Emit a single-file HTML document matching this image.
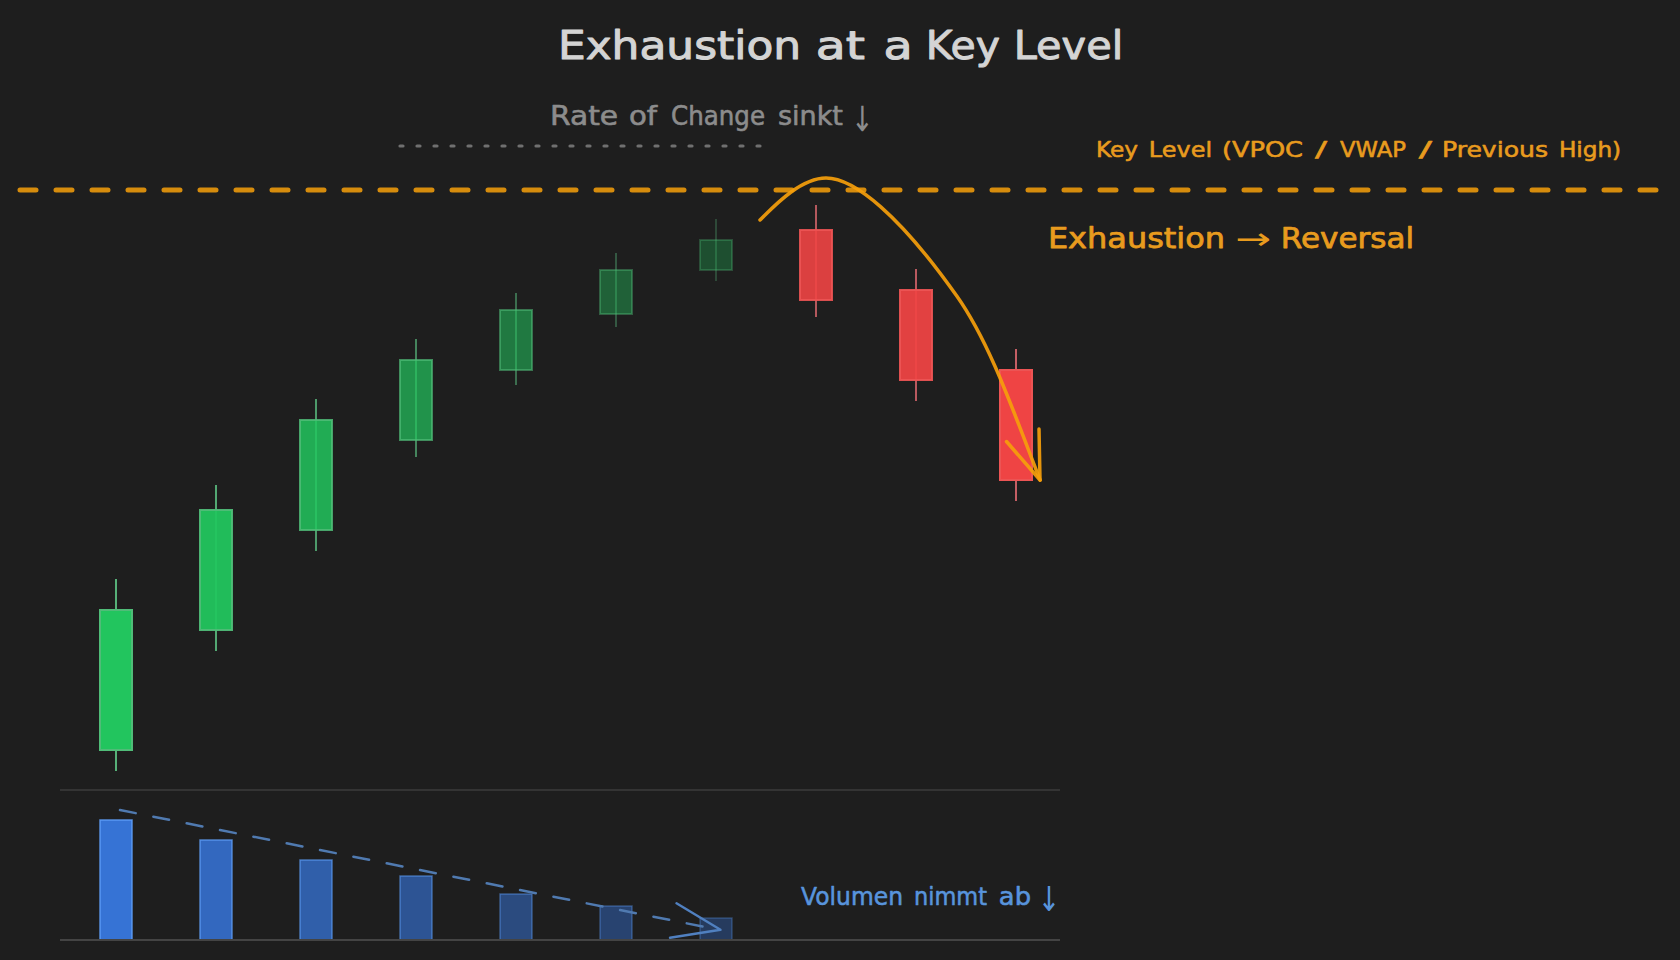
<!DOCTYPE html>
<html lang="de">
<head>
<meta charset="utf-8">
<title>Exhaustion at a Key Level</title>
<style>
html,body{margin:0;padding:0;background:#1e1e1e;}
body{width:1680px;height:960px;overflow:hidden;}
svg{display:block;}
text{font-family:"DejaVu Sans","Liberation Sans",sans-serif;white-space:pre;}
</style>
</head>
<body>
<svg width="1680" height="960" viewBox="0 0 1680 960">
<rect x="0" y="0" width="1680" height="960" fill="#1e1e1e"/>
<text font-size="39" fill="#d4d4d4" stroke="#d4d4d4" stroke-width="1.0" stroke-linejoin="round"><tspan x="557.92" y="59" textLength="243.2" lengthAdjust="spacingAndGlyphs">Exhaustion</tspan> <tspan x="815.88" y="59" textLength="49.2" lengthAdjust="spacingAndGlyphs">at</tspan> <tspan x="883.54" y="59" textLength="29.2" lengthAdjust="spacingAndGlyphs">a</tspan> <tspan x="925.83" y="59" textLength="74.2" lengthAdjust="spacingAndGlyphs">Key</tspan> <tspan x="1013.76" y="59" textLength="109.4" lengthAdjust="spacingAndGlyphs">Level</tspan></text>
<text font-size="26" fill="#8c8c8c" stroke="#8c8c8c" stroke-width="0.6" stroke-linejoin="round"><tspan x="549.91" y="125" textLength="68.2" lengthAdjust="spacingAndGlyphs">Rate</tspan> <tspan x="628.97" y="125" textLength="28.1" lengthAdjust="spacingAndGlyphs">of</tspan> <tspan x="671.0" y="125" textLength="94.0" lengthAdjust="spacingAndGlyphs">Change</tspan> <tspan x="777.98" y="125" textLength="65.0" lengthAdjust="spacingAndGlyphs">sinkt</tspan> <tspan x="851.1" y="131.3" font-size="34.5" stroke-width="0" textLength="22.7" lengthAdjust="spacingAndGlyphs">↓</tspan></text>
<line x1="400" y1="146" x2="762" y2="146" stroke="#707070" stroke-width="3.2" stroke-linecap="round" stroke-dasharray="3 14"/>
<text font-size="22" fill="#e89b1e" stroke="#e89b1e" stroke-width="0.6" stroke-linejoin="round"><tspan x="1095.94" y="156.5" textLength="42.1" lengthAdjust="spacingAndGlyphs">Key</tspan> <tspan x="1148.89" y="156.5" textLength="63.2" lengthAdjust="spacingAndGlyphs">Level</tspan> <tspan x="1221.93" y="156.5" textLength="81.1" lengthAdjust="spacingAndGlyphs">(VPOC</tspan> <tspan x="1314.91" y="156.5" textLength="12.1" lengthAdjust="spacingAndGlyphs">/</tspan> <tspan x="1340.01" y="156.5" textLength="66.0" lengthAdjust="spacingAndGlyphs">VWAP</tspan> <tspan x="1418.85" y="156.5" textLength="13.3" lengthAdjust="spacingAndGlyphs">/</tspan> <tspan x="1441.95" y="156.5" textLength="106.1" lengthAdjust="spacingAndGlyphs">Previous</tspan> <tspan x="1558.91" y="156.5" textLength="62.2" lengthAdjust="spacingAndGlyphs">High)</tspan></text>
<line x1="20" y1="190" x2="1660" y2="190" stroke="#f59e0b" stroke-opacity="0.86" stroke-width="5" stroke-linecap="round" stroke-dasharray="16 20"/>
<text font-size="28" fill="#e89b1e" stroke="#e89b1e" stroke-width="0.75" stroke-linejoin="round"><tspan x="1047.93" y="247.8" textLength="177.1" lengthAdjust="spacingAndGlyphs">Exhaustion</tspan> <tspan x="1234.9" y="249" font-size="29.9" stroke-width="0" textLength="35.8" lengthAdjust="spacingAndGlyphs">→</tspan> <tspan x="1280.89" y="247.8" textLength="133.2" lengthAdjust="spacingAndGlyphs">Reversal</tspan></text>
<line x1="116" y1="580" x2="116" y2="770" stroke="rgb(86,176,120)" stroke-opacity="1.0" stroke-width="2" stroke-linecap="square"/>
<rect x="100" y="610" width="32" height="140" fill="#22c55e" fill-opacity="1.0" stroke="rgb(80,188,120)" stroke-opacity="1.0" stroke-width="2"/>
<line x1="216" y1="486" x2="216" y2="650" stroke="rgb(86,176,120)" stroke-opacity="0.95" stroke-width="2" stroke-linecap="square"/>
<rect x="200" y="510" width="32" height="120" fill="#22c55e" fill-opacity="0.95" stroke="rgb(80,188,120)" stroke-opacity="0.95" stroke-width="2"/>
<line x1="316" y1="400" x2="316" y2="550" stroke="rgb(86,176,120)" stroke-opacity="0.85" stroke-width="2" stroke-linecap="square"/>
<rect x="300" y="420" width="32" height="110" fill="#22c55e" fill-opacity="0.85" stroke="rgb(80,188,120)" stroke-opacity="0.85" stroke-width="2"/>
<line x1="416" y1="340" x2="416" y2="456" stroke="rgb(86,176,120)" stroke-opacity="0.7" stroke-width="2" stroke-linecap="square"/>
<rect x="400" y="360" width="32" height="80" fill="#22c55e" fill-opacity="0.7" stroke="rgb(80,188,120)" stroke-opacity="0.7" stroke-width="2"/>
<line x1="516" y1="294" x2="516" y2="384" stroke="rgb(86,176,120)" stroke-opacity="0.55" stroke-width="2" stroke-linecap="square"/>
<rect x="500" y="310" width="32" height="60" fill="#22c55e" fill-opacity="0.55" stroke="rgb(80,188,120)" stroke-opacity="0.55" stroke-width="2"/>
<line x1="616" y1="254" x2="616" y2="326" stroke="rgb(86,176,120)" stroke-opacity="0.4" stroke-width="2" stroke-linecap="square"/>
<rect x="600" y="270" width="32" height="44" fill="#22c55e" fill-opacity="0.4" stroke="rgb(80,188,120)" stroke-opacity="0.4" stroke-width="2"/>
<line x1="716" y1="220" x2="716" y2="280" stroke="rgb(86,176,120)" stroke-opacity="0.3" stroke-width="2" stroke-linecap="square"/>
<rect x="700" y="240" width="32" height="30" fill="#22c55e" fill-opacity="0.3" stroke="rgb(80,188,120)" stroke-opacity="0.3" stroke-width="2"/>
<line x1="816" y1="206" x2="816" y2="316" stroke="rgb(196,94,100)" stroke-opacity="0.91" stroke-width="2" stroke-linecap="square"/>
<rect x="800" y="230" width="32" height="70" fill="#ef4444" fill-opacity="0.91" stroke="rgb(236,84,84)" stroke-opacity="0.91" stroke-width="2"/>
<line x1="916" y1="270" x2="916" y2="400" stroke="rgb(196,94,100)" stroke-opacity="0.94" stroke-width="2" stroke-linecap="square"/>
<rect x="900" y="290" width="32" height="90" fill="#ef4444" fill-opacity="0.94" stroke="rgb(236,84,84)" stroke-opacity="0.94" stroke-width="2"/>
<line x1="1016" y1="350" x2="1016" y2="500" stroke="rgb(196,94,100)" stroke-opacity="1.0" stroke-width="2" stroke-linecap="square"/>
<rect x="1000" y="370" width="32" height="110" fill="#ef4444" fill-opacity="1.0" stroke="rgb(236,84,84)" stroke-opacity="1.0" stroke-width="2"/>
<path d="M760,220 C771.4,208.9 799.4,178 826,178 C854.3,178 900.1,215.6 956.8,296.1 C990,343.2 1012.9,410.1 1040.2,480.2" fill="none" stroke="#f59e0b" stroke-opacity="0.92" stroke-width="3.5" stroke-linecap="round" stroke-linejoin="round"/>
<path d="M1039,429 L1040,480 L1006.5,441.5" fill="none" stroke="#f59e0b" stroke-opacity="0.92" stroke-width="3.5" stroke-linecap="round" stroke-linejoin="round"/>
<line x1="60" y1="790" x2="1060" y2="790" stroke="#3d3d3d" stroke-width="1.6"/>
<rect x="100" y="820" width="32" height="120" fill="#3b82f6" fill-opacity="0.85" stroke="rgb(96,160,250)" stroke-opacity="0.85" stroke-width="1.5"/>
<rect x="200" y="840" width="32" height="100" fill="#3b82f6" fill-opacity="0.75" stroke="rgb(96,160,250)" stroke-opacity="0.75" stroke-width="1.5"/>
<rect x="300" y="860" width="32" height="80" fill="#3b82f6" fill-opacity="0.65" stroke="rgb(96,160,250)" stroke-opacity="0.65" stroke-width="1.5"/>
<rect x="400" y="876" width="32" height="64" fill="#3b82f6" fill-opacity="0.55" stroke="rgb(96,160,250)" stroke-opacity="0.55" stroke-width="1.5"/>
<rect x="500" y="894" width="32" height="46" fill="#3b82f6" fill-opacity="0.45" stroke="rgb(96,160,250)" stroke-opacity="0.45" stroke-width="1.5"/>
<rect x="600" y="906" width="32" height="34" fill="#3b82f6" fill-opacity="0.38" stroke="rgb(96,160,250)" stroke-opacity="0.38" stroke-width="1.5"/>
<rect x="700" y="918" width="32" height="22" fill="#3b82f6" fill-opacity="0.3" stroke="rgb(96,160,250)" stroke-opacity="0.3" stroke-width="1.5"/>
<line x1="60" y1="940" x2="1060" y2="940" stroke="#444444" stroke-width="2"/>
<line x1="120" y1="810" x2="720" y2="930" stroke="rgb(80,122,176)" stroke-width="2.5" stroke-linecap="round" stroke-dasharray="16 18"/>
<path d="M676.5,903.3 L720.5,929.8 L670,937.8" fill="none" stroke="rgb(80,128,192)" stroke-width="2.4" stroke-linecap="round" stroke-linejoin="round"/>
<text font-size="25.5" fill="rgb(88,148,220)" stroke="rgb(88,148,220)" stroke-width="0.6" stroke-linejoin="round"><tspan x="801.0" y="905.3" textLength="102.0" lengthAdjust="spacingAndGlyphs">Volumen</tspan> <tspan x="913.96" y="905.3" textLength="73.0" lengthAdjust="spacingAndGlyphs">nimmt</tspan> <tspan x="998.88" y="905.3" textLength="32.2" lengthAdjust="spacingAndGlyphs">ab</tspan> <tspan x="1037.8" y="910.8" font-size="34.2" stroke-width="0" textLength="22.5" lengthAdjust="spacingAndGlyphs">↓</tspan></text>
</svg>
</body>
</html>
